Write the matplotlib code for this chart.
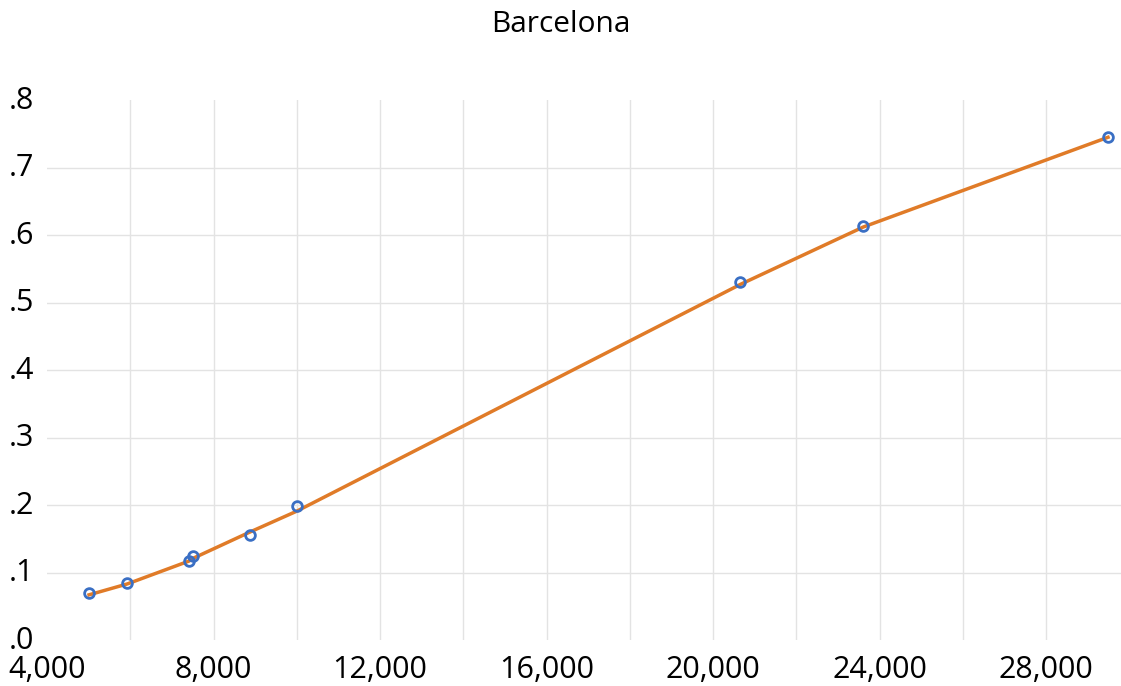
import numpy as np
import matplotlib.pyplot as plt
import matplotlib.transforms as mtransforms
from matplotlib.ticker import FuncFormatter, MultipleLocator

# Datos
renta = [5008, 5920, 7408, 7504, 8872, 10000, 20656, 23608, 29488]
valor = [0.070, 0.084, 0.117, 0.124, 0.156, 0.199, 0.530, 0.613, 0.745]
ajuste = [0.067, 0.083, 0.117, 0.121, 0.160, 0.191, 0.527, 0.612, 0.745]

plt.rcParams['font.family'] = ['Open Sans', 'DejaVu Sans']

fig = plt.figure(figsize=(11.21, 6.86), dpi=100)
ax = fig.add_axes([0.042, 0.067, 0.958, 0.787])

ax.plot(renta, ajuste, color='#E07B28', linewidth=2.5, zorder=3)
ax.plot(renta, valor, linestyle='none', marker='o', markersize=7,
        markerfacecolor='none', markeredgecolor='#3A6FC4', markeredgewidth=2, zorder=4)

ax.set_xlim(4000, 29800)
ax.set_ylim(0, 0.8)
ax.xaxis.set_major_locator(MultipleLocator(4000))
ax.yaxis.set_major_locator(MultipleLocator(0.1))
ax.xaxis.set_major_formatter(FuncFormatter(lambda v, p: f'{int(v):,}'))
ax.yaxis.set_major_formatter(FuncFormatter(lambda v, p: '.' + f'{v:.1f}'.split('.')[1]))

# rejilla sin lineas en los bordes
for x in np.arange(6000, 29800, 2000):
    ax.axvline(x, color='#E3E3E3', linewidth=1, zorder=1)
for y in np.arange(0.1, 0.75, 0.1):
    ax.axhline(y, color='#E3E3E3', linewidth=1, zorder=1)

for s in ax.spines.values():
    s.set_visible(False)
ax.tick_params(which='both', length=0, labelsize=22)
ax.tick_params(axis='y', pad=9)
ax.tick_params(axis='x', pad=11)

# subir un poco las etiquetas del eje y
desplaza = mtransforms.ScaledTranslation(0, 3 / 100, fig.dpi_scale_trans)
for lbl in ax.get_yticklabels():
    lbl.set_transform(lbl.get_transform() + desplaza)

fig.suptitle('Barcelona', y=0.985, fontsize=21.5)

fig.savefig('out.png', dpi=100)
